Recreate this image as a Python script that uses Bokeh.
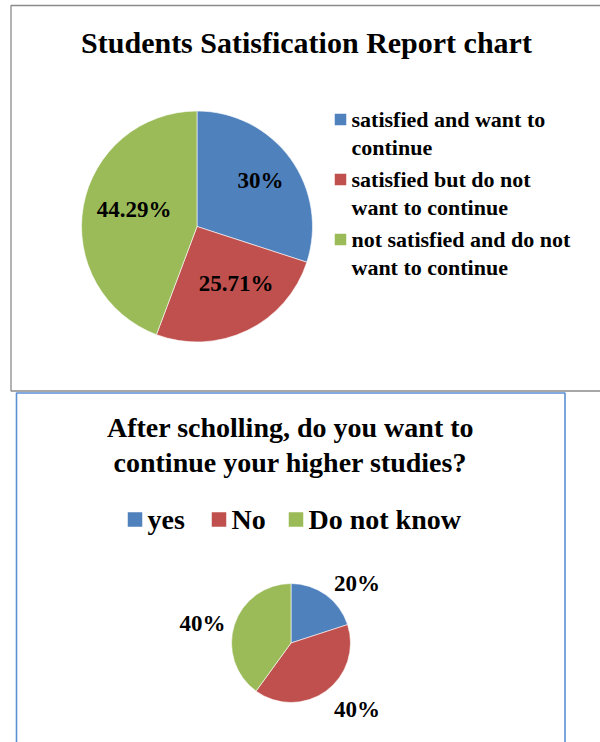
import math
from bokeh.plotting import figure
from bokeh.models import Range1d, ColumnDataSource
from bokeh.core.properties import value
from bokeh.embed import file_html
from bokeh.resources import INLINE

# ---------------- data ----------------
top_title = "Students Satisfication Report chart"
top_labels = ["satisfied and want to\ncontinue",
              "satisfied but do not\nwant to continue",
              "not satisfied and do not\nwant to continue"]
top_values = [30.0, 25.71, 44.29]
top_value_text = ["30%", "25.71%", "44.29%"]

bot_title = "After scholling, do you want to\ncontinue your higher studies?"
bot_labels = ["yes", "No", "Do not know"]
bot_values = [20.0, 40.0, 40.0]
bot_value_text = ["20%", "40%", "40%"]

colors = ["#4F81BD", "#C0504D", "#9BBB59"]

W, H = 600, 742
FONT = value("Liberation Serif")

p = figure(width=W, height=H, x_range=Range1d(0, W), y_range=Range1d(0, H),
           x_axis_type=None, y_axis_type=None, toolbar_location=None,
           output_backend="svg", min_border=0)
p.grid.visible = False
p.outline_line_color = None
p.background_fill_color = "white"
p.border_fill_color = "white"


def Y(py):
    return H - py


# ---------------- frames ----------------
p.quad(left=[10.5], right=[640], top=[Y(5)], bottom=[Y(390.5)],
       fill_color=None, line_color="#8a8a8a", line_width=1.3)
p.quad(left=[16], right=[564.5], top=[Y(392.5)], bottom=[Y(760)],
       fill_color=None, line_color="#5B8FD3", line_width=1.6)


def pie(cx, cy, r, vals):
    total = sum(vals)
    starts, ends, mids = [], [], []
    cum = 0.0
    for v in vals:
        a0 = math.pi / 2 - 2 * math.pi * cum / total
        cum += v
        a1 = math.pi / 2 - 2 * math.pi * cum / total
        starts.append(a0)
        ends.append(a1)
        mids.append((a0 + a1) / 2)
    src = ColumnDataSource(dict(x=[cx] * len(vals), y=[cy] * len(vals),
                                s=starts, e=ends, c=colors[:len(vals)]))
    p.wedge(x="x", y="y", radius=r, start_angle="s", end_angle="e",
            direction="clock", fill_color="c", line_color="white",
            line_width=0.6, source=src)
    return mids


# ---------------- top chart ----------------
p.text(x=[306], y=[Y(42)], text=[top_title], text_font=FONT,
       text_font_style="bold", text_font_size="30px", text_align="center",
       text_baseline="middle", text_color="black")

tcx, tcy, tr = 196.5, Y(226), 115.5
mids = pie(tcx, tcy, tr, top_values)
fracs = [0.68, 0.6, 0.57]
lx = [tcx + f * tr * math.cos(m) for f, m in zip(fracs, mids)]
ly = [tcy + f * tr * math.sin(m) for f, m in zip(fracs, mids)]
lx[1] += 9
ly[1] += 5
lx[2] += 2
ly[2] += 5
p.text(x=lx, y=ly, text=top_value_text, text_font=FONT,
       text_font_style="bold", text_font_size="23px", text_align="center",
       text_baseline="middle", text_color="black")

leg_y = [Y(119 + 60 * i) for i in range(len(top_labels))]
p.rect(x=[340] * 3, y=leg_y, width=11.5, height=11.5, fill_color=colors,
       line_color=None)
p.text(x=[351] * 3, y=[v + 13 for v in leg_y], text=top_labels, text_font=FONT,
       text_font_style="bold", text_font_size="22px", text_align="left",
       text_baseline="top", text_color="black", text_line_height=1.15)

# ---------------- bottom chart ----------------
p.text(x=[290], y=[Y(428) + 17], text=[bot_title], text_font=FONT,
       text_font_style="bold", text_font_size="28px", text_align="center",
       text_baseline="top", text_color="black", text_line_height=1.15)

sq_x = [134.5, 218.5, 295.5]
p.rect(x=sq_x, y=[Y(519)] * 3, width=14.5, height=14.5, fill_color=colors,
       line_color=None)
p.text(x=[s + 12.5 for s in sq_x], y=[Y(519)] * 3, text=bot_labels,
       text_font=FONT, text_font_style="bold", text_font_size="28px",
       text_align="left", text_baseline="middle", text_color="black")

bcx, bcy, br = 290.5, Y(642.5), 59.5
mids = pie(bcx, bcy, br, bot_values)
R = br * 1.23
bx = [bcx + R * math.cos(m) for m in mids]
by = [bcy + R * math.sin(m) for m in mids]
by[1] -= 7
bx[2] += 4
by[2] -= 3
align = ["left" if math.cos(m) >= 0 else "right" for m in mids]
p.text(x=bx, y=by, text=bot_value_text, text_font=FONT,
       text_font_style="bold", text_font_size="23px", text_align=align,
       text_baseline="middle", text_color="black")

open("out.html", "w").write(file_html(p, INLINE))
